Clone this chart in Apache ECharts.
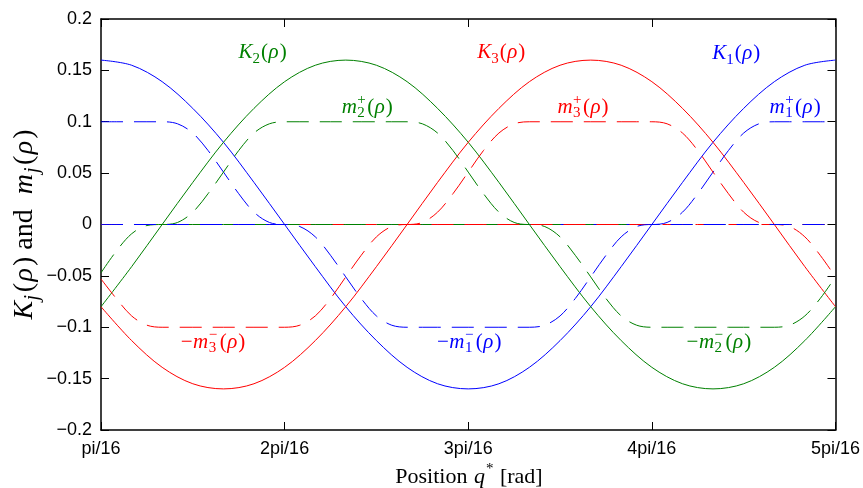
<!DOCTYPE html>
<html>
<head>
<meta charset="utf-8">
<script src="https://cdn.jsdelivr.net/npm/echarts@6/dist/echarts.min.js"></script>
<style>
  html, body { margin: 0; padding: 0; background: #fff; }
  #chart { width: 863px; height: 488px; }
</style>
</head>
<body>
<div id="chart"></div>
<script>
// Positions q* in units of pi/16
const qK = [1, 1.167, 1.333, 1.5, 1.667, 1.833, 2, 2.167, 2.333, 2.5, 2.667, 2.833,
  3, 3.167, 3.333, 3.5, 3.667, 3.833, 4, 4.167, 4.333, 4.5, 4.667, 4.833, 5];
const qM = [1, 1.083, 1.167, 1.25, 1.333, 1.417, 1.5, 1.583, 1.667, 1.75, 1.833, 1.917,
  2, 2.083, 2.167, 2.25, 2.333, 2.417, 2.5, 2.583, 2.667, 2.75, 2.833, 2.917,
  3, 3.083, 3.167, 3.25, 3.333, 3.417, 3.5, 3.583, 3.667, 3.75, 3.833, 3.917,
  4, 4.083, 4.167, 4.25, 4.333, 4.417, 4.5, 4.583, 4.667, 4.75, 4.833, 4.917, 5];
const xTickLabels = ['pi/16', '2pi/16', '3pi/16', '4pi/16', '5pi/16'];

// K_j(rho) on qK
const K1 = [0.16, 0.155, 0.139, 0.113, 0.08, 0.041, 0, -0.041, -0.08, -0.113, -0.139, -0.155,
  -0.16, -0.155, -0.139, -0.113, -0.08, -0.041, 0, 0.041, 0.08, 0.113, 0.139, 0.155, 0.16];
const K2 = [-0.08, -0.041, 0, 0.041, 0.08, 0.113, 0.139, 0.155, 0.16, 0.155, 0.139, 0.113,
  0.08, 0.041, 0, -0.041, -0.08, -0.113, -0.139, -0.155, -0.16, -0.155, -0.139, -0.113, -0.08];
const K3 = [-0.08, -0.113, -0.139, -0.155, -0.16, -0.155, -0.139, -0.113, -0.08, -0.041, 0, 0.041,
  0.08, 0.113, 0.139, 0.155, 0.16, 0.155, 0.139, 0.113, 0.08, 0.041, 0, -0.041, -0.08];

// m_j^+(rho) on qM
const m1Plus = [0.1, 0.1, 0.1, 0.1, 0.1, 0.098, 0.089, 0.072, 0.051, 0.030, 0.012, 0.002,
  0, 0, 0, 0, 0, 0, 0, 0, 0, 0, 0, 0,
  0, 0, 0, 0, 0, 0, 0, 0, 0, 0, 0, 0,
  0, 0.002, 0.012, 0.030, 0.051, 0.072, 0.089, 0.098, 0.1, 0.1, 0.1, 0.1, 0.1];
const m2Plus = [0, 0, 0, 0, 0, 0.002, 0.012, 0.030, 0.051, 0.072, 0.089, 0.098,
  0.1, 0.1, 0.1, 0.1, 0.1, 0.1, 0.1, 0.1, 0.1, 0.098, 0.089, 0.072,
  0.051, 0.030, 0.012, 0.002, 0, 0, 0, 0, 0, 0, 0, 0,
  0, 0, 0, 0, 0, 0, 0, 0, 0, 0, 0, 0, 0];
const m3Plus = [0, 0, 0, 0, 0, 0, 0, 0, 0, 0, 0, 0,
  0, 0, 0, 0, 0, 0, 0, 0, 0, 0.002, 0.012, 0.030,
  0.051, 0.072, 0.089, 0.098, 0.1, 0.1, 0.1, 0.1, 0.1, 0.1, 0.1, 0.1,
  0.1, 0.098, 0.089, 0.072, 0.051, 0.030, 0.012, 0.002, 0, 0, 0, 0, 0];

// -m_j^-(rho) on qM
const m1MinusNeg = [0, 0, 0, 0, 0, 0, 0, 0, 0, 0, 0, 0,
  0, -0.002, -0.012, -0.030, -0.051, -0.072, -0.089, -0.098, -0.1, -0.1, -0.1, -0.1,
  -0.1, -0.1, -0.1, -0.1, -0.1, -0.098, -0.089, -0.072, -0.051, -0.030, -0.012, -0.002,
  0, 0, 0, 0, 0, 0, 0, 0, 0, 0, 0, 0, 0];
const m2MinusNeg = [-0.047, -0.026, -0.009, -0.001, 0, 0, 0, 0, 0, 0, 0, 0,
  0, 0, 0, 0, 0, 0, 0, 0, 0, 0, 0, 0,
  0, 0, 0, 0, 0, -0.002, -0.012, -0.030, -0.051, -0.072, -0.089, -0.098,
  -0.1, -0.1, -0.1, -0.1, -0.1, -0.1, -0.1, -0.1, -0.1, -0.098, -0.089, -0.072, -0.051];
const m3MinusNeg = [-0.053, -0.072, -0.089, -0.098, -0.1, -0.1, -0.1, -0.1, -0.1, -0.1, -0.1, -0.1,
  -0.1, -0.098, -0.089, -0.072, -0.051, -0.030, -0.012, -0.002, 0, 0, 0, 0,
  0, 0, 0, 0, 0, 0, 0, 0, 0, 0, 0, 0,
  0, 0, 0, 0, 0, 0, 0, 0, 0, -0.002, -0.012, -0.030, -0.051];

const BLUE = '#0000ff', GREEN = '#008000', RED = '#ff0000';
const SANS = '"Liberation Sans", Arial, Helvetica, sans-serif';
const SERIF = '"Liberation Serif", "Times New Roman", serif';
const DASH = [22, 11];

const GRID = { left: 101, right: 26, top: 19, bottom: 58 };
const W = 863, H = 488;

const chart = echarts.init(document.getElementById('chart'), null, { renderer: 'canvas' });

function pairs(xs, ys) { return xs.map((x, i) => [x, ys[i]]); }
function curve(name, xs, ys, color, dashed) {
  return {
    name, type: 'line', data: pairs(xs, ys),
    xAxisIndex: 0, yAxisIndex: 0,
    showSymbol: false, symbol: 'none', smooth: 0.33,
    lineStyle: { color, width: 1, type: dashed ? DASH : 'solid' },
    silent: true, animation: false
  };
}

const frameLine = { show: true, onZero: false, lineStyle: { color: '#000', width: 1.5 } };
const innerTick = { show: true, inside: true, length: 8, lineStyle: { color: '#000', width: 1 } };

function yLabel(v) {
  if (Math.abs(v) < 1e-9) return '0';
  return String(Math.round(v * 100) / 100).replace('-', '\u2212');
}

chart.setOption({
  animation: false,
  backgroundColor: '#fff',
  grid: { left: GRID.left, right: GRID.right, top: GRID.top, bottom: GRID.bottom, containLabel: false },
  xAxis: [
    {
      type: 'value', min: 1, max: 5, interval: 1, position: 'bottom',
      axisLine: frameLine, axisTick: innerTick, splitLine: { show: false },
      axisLabel: {
        formatter: v => xTickLabels[Math.round(v) - 1],
        fontFamily: SANS, fontSize: 18, color: '#000', margin: 10
      }
    },
    {
      type: 'value', min: 1, max: 5, interval: 1, position: 'top',
      axisLine: frameLine, axisTick: innerTick, splitLine: { show: false },
      axisLabel: { show: false }
    }
  ],
  yAxis: [
    {
      type: 'value', min: -0.2, max: 0.2, interval: 0.05, position: 'left',
      axisLine: frameLine, axisTick: innerTick, splitLine: { show: false },
      axisLabel: { formatter: yLabel, fontFamily: SANS, fontSize: 18, color: '#000', margin: 9 }
    },
    {
      type: 'value', min: -0.2, max: 0.2, interval: 0.05, position: 'right',
      axisLine: frameLine, axisTick: innerTick, splitLine: { show: false },
      axisLabel: { show: false }
    }
  ],
  series: [
    curve('K1', qK, K1, BLUE, false),
    curve('K2', qK, K2, GREEN, false),
    curve('K3', qK, K3, RED, false),
    curve('m1+', qM, m1Plus, BLUE, true),
    curve('m2+', qM, m2Plus, GREEN, true),
    curve('m3+', qM, m3Plus, RED, true),
    curve('-m2-', qM, m2MinusNeg, GREEN, true),
    curve('-m3-', qM, m3MinusNeg, RED, true),
    curve('-m1-', qM, m1MinusNeg, BLUE, true)
  ]
});

// ---- math-style text built from pieces (italic symbols, sub/superscripts) ----
const measureCtx = document.createElement('canvas').getContext('2d');
function fontOf(size, italic) { return (italic ? 'italic ' : '') + size + 'px ' + SERIF; }
function measure(t, size, italic) { measureCtx.font = fontOf(size, italic); return measureCtx.measureText(t).width; }
function piece(t, x, y, size, italic, color) {
  return {
    type: 'text', x, y, silent: true,
    style: { text: t, font: fontOf(size, italic), fill: color,
      textAlign: 'left', textVerticalAlign: 'middle', align: 'left', verticalAlign: 'middle' }
  };
}
function mathRow(parts, size, color) {
  const children = [];
  const small = Math.round(size * 0.7);
  let cx = 0;
  parts.forEach(p => {
    if (p.sub !== undefined || p.sup !== undefined) {
      let w = 0;
      if (p.sup !== undefined) {
        children.push(piece(p.sup, cx, -size * 0.36, small, !!p.supIt, color));
        w = Math.max(w, measure(p.sup, small, !!p.supIt));
      }
      if (p.sub !== undefined) {
        children.push(piece(p.sub, cx, size * 0.27, small, !!p.subIt, color));
        w = Math.max(w, measure(p.sub, small, !!p.subIt));
      }
      cx += w + (p.gap || 0);
    } else {
      children.push(piece(p.t, cx, 0, size, !!p.it, color));
      cx += measure(p.t, size, !!p.it) + (p.gap || 0);
    }
  });
  return { children, width: cx };
}

const RHO = [{ t: '(', gap: 0.5 }, { t: '\u03c1', it: true, gap: 1 }, { t: ')' }];
function kName(j) { return [{ t: 'K', it: true, gap: 0 }, { sub: String(j), gap: 1 }].concat(RHO); }
function mPlusName(j) { return [{ t: 'm', it: true, gap: 0.5 }, { sup: '+', sub: String(j), gap: 1.5 }].concat(RHO); }
function mMinusName(j) {
  return [{ t: '\u2212', gap: 0.5 }, { t: 'm', it: true, gap: 0.5 }, { sup: '\u2212', sub: String(j), gap: 2.5 }].concat(RHO);
}

// Label anchors in data coordinates (q* in pi/16 units, value)
const curveLabels = [
  { parts: kName(2), at: [1.88, 0.167], color: GREEN },
  { parts: kName(3), at: [3.18, 0.167], color: RED },
  { parts: kName(1), at: [4.46, 0.166], color: BLUE },
  { parts: mPlusName(2), at: [2.45, 0.114], color: GREEN },
  { parts: mPlusName(3), at: [3.625, 0.114], color: RED },
  { parts: mPlusName(1), at: [4.78, 0.114], color: BLUE },
  { parts: mMinusName(3), at: [1.61, -0.115], color: RED },
  { parts: mMinusName(1), at: [3.005, -0.115], color: BLUE },
  { parts: mMinusName(2), at: [4.365, -0.115], color: GREEN }
];

const graphics = curveLabels.map(l => {
  const row = mathRow(l.parts, 21, l.color);
  const p = chart.convertToPixel({ gridIndex: 0 }, l.at);
  return { type: 'group', x: p[0] - row.width / 2, y: p[1], children: row.children, silent: true };
});

// Axis titles
const plotCx = GRID.left + (W - GRID.left - GRID.right) / 2;
const plotCy = GRID.top + (H - GRID.top - GRID.bottom) / 2;
const xTitle = mathRow([{ t: 'Position ', gap: 1 }, { t: 'q', it: true, gap: 1 }, { sup: '*', gap: 1 }, { t: ' [rad]' }], 22, '#000');
graphics.push({ type: 'group', x: plotCx - xTitle.width / 2, y: 477, children: xTitle.children, silent: true });

const yRho = [{ t: '(', gap: 1.5 }, { t: '\u03c1', it: true, gap: 2 }, { t: ')' }];
const yTitle = mathRow([
  { t: 'K', it: true, gap: 0.5 }, { sub: 'j', subIt: true, gap: 2.5 }].concat(yRho)
  .concat([{ t: ' and ', gap: 8 }, { t: 'm', it: true, gap: 1 }, { sub: 'j', subIt: true, gap: 2.5 }]).concat(yRho), 28, '#000');
graphics.push({
  type: 'group', x: 25, y: plotCy + yTitle.width / 2, rotation: Math.PI / 2,
  children: yTitle.children, silent: true
});

chart.setOption({ graphic: graphics });
</script>
</body>
</html>
